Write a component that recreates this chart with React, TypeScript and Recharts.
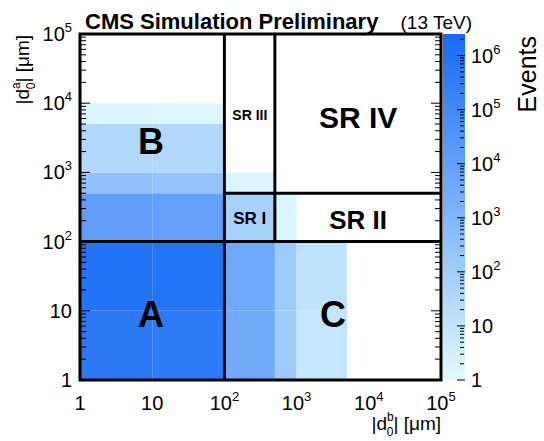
import React from "react";
import {
  ScatterChart,
  Scatter,
  XAxis,
  YAxis,
  ReferenceArea,
  ReferenceLine,
  BarChart,
  Bar,
} from "recharts";

const FONT = "'Liberation Sans', Arial, Helvetica, sans-serif";

// histogram bin edges in |d0| [um], same binning on both axes
const binEdges = [1, 10, 100, 500, 1000, 5000, 10000, 100000];

// events per bin: one row per |d0a| bin (bottom to top), one column per |d0b| bin
const eventCounts = [
  [5.2e5, 4.6e5, 3400, 120, 9, 0, 0],
  [1.0e6, 9.0e5, 3800, 140, 11, 0, 0],
  [1.2e4, 1.0e4, 65, 1.6, 0, 0, 0],
  [300, 280, 1.6, 0, 0, 0, 0],
  [32, 30, 0, 0, 0, 0, 0],
  [1.6, 1.3, 0, 0, 0, 0, 0],
  [0, 0, 0, 0, 0, 0, 0],
];

const decadeTicks = [1, 10, 100, 1000, 10000, 100000];
const zDecadeTicks = [1, 10, 100, 1000, 10000, 100000, 1000000];
const zMax = 2.5e6;

// control / signal region boundaries: [xFrom, yFrom, xTo, yTo]
const regionBoundaries = [
  [100, 1, 100, 100000],
  [1, 100, 100000, 100],
  [500, 100, 500, 100000],
  [100, 500, 100000, 500],
];

const regionNames = ["A", "B", "C", "SR I", "SR II", "SR III", "SR IV"];
const regionLabelX = [9.6, 9.6, 3200, 225, 7100, 225, 7100];
const regionLabelY = [9, 2800, 9, 220, 205, 6750, 6300];

const labelFontSize: Record<string, number> = {
  A: 36,
  B: 36,
  C: 36,
  "SR I": 17,
  "SR II": 26,
  "SR III": 14,
  "SR IV": 30,
};

const minorOf = (decades: number[]) =>
  decades.flatMap((d) => [2, 3, 4, 5, 6, 7, 8, 9].map((m) => m * d));
const xyMinorTicks = minorOf([1, 10, 100, 1000, 10000]);
const zMinorTicks = minorOf([1, 10, 100, 1000, 10000, 100000]).concat([2000000]);

// colour map: light cyan -> blue, linear in log10(events)
const LOW = [225, 250, 255];
const HIGH = [22, 106, 245];
function countColor(v: number) {
  const t = Math.min(1, Math.max(0, Math.log10(v) / Math.log10(zMax)));
  const c = LOW.map((lo, i) => Math.round(lo + (HIGH[i] - lo) * t));
  return `rgb(${c[0]},${c[1]},${c[2]})`;
}

const cells = eventCounts.flatMap((row, iy) =>
  row
    .map((v, ix) => ({
      x1: binEdges[ix],
      x2: binEdges[ix + 1],
      y1: binEdges[iy],
      y2: binEdges[iy + 1],
      v,
    }))
    .filter((c) => c.v > 0)
);

const labelPoints = regionNames.map((name, i) => ({
  name,
  x: regionLabelX[i],
  y: regionLabelY[i],
}));

function PowerLabel(props: any) {
  const { x, y, payload, anchor, dx = 0, dy = 0 } = props;
  const fs = 20;
  const v = payload.value;
  const e = Math.round(Math.log10(v));
  return (
    <text x={x + dx} y={y + dy} textAnchor={anchor} fontFamily={FONT} fontSize={fs} fill="#000">
      {e < 2 ? String(v) : (
        <>
          10
          <tspan dy={-9} fontSize={13}>
            {e}
          </tspan>
        </>
      )}
    </text>
  );
}

function RegionLabel(props: any) {
  const { cx, cy, payload } = props;
  const fs = labelFontSize[payload.name];
  return (
    <text
      x={cx}
      y={cy + fs * 0.36}
      textAnchor="middle"
      fontFamily={FONT}
      fontWeight="bold"
      fontSize={fs}
      fill="#000"
    >
      {payload.name}
    </text>
  );
}

// tick marks only, no label
const noLabel = () => <g />;

const logAxis = {
  type: "number" as const,
  scale: "log" as const,
  domain: [1, 100000],
  allowDataOverflow: true,
  interval: 0 as const,
};
const tickStyle = { stroke: "#000", strokeWidth: 1 };

export default function App() {
  return (
    <div style={{ position: "absolute", left: 0, top: 0, width: 544, height: 441, background: "#fff" }}>
      <ScatterChart width={544} height={441} margin={{ top: 34, right: 103, bottom: 31, left: 30 }}>
        <XAxis
          xAxisId="main"
          dataKey="x"
          {...logAxis}
          ticks={decadeTicks}
          height={30}
          tickSize={0}
          tickMargin={0}
          axisLine={false}
          tickLine={false}
          tick={(p: any) => <PowerLabel {...p} anchor="middle" dy={30} />}
        />
        <YAxis
          yAxisId="main"
          dataKey="y"
          {...logAxis}
          ticks={decadeTicks}
          width={50}
          tickSize={0}
          tickMargin={8}
          axisLine={false}
          tickLine={false}
          tick={(p: any) => <PowerLabel {...p} anchor="end" dy={7} />}
        />

        {cells.map((c, i) => (
          <ReferenceArea
            key={`cell-${i}`}
            xAxisId="main"
            yAxisId="main"
            x1={c.x1}
            x2={c.x2}
            y1={c.y1}
            y2={c.y2}
            fill={countColor(c.v)}
            fillOpacity={1}
            stroke="none"
          />
        ))}

        {/* inward tick marks on all four sides */}
        <XAxis xAxisId="bMaj" orientation="bottom" mirror height={1} {...logAxis} ticks={decadeTicks} tickSize={10} tick={noLabel} axisLine={false} tickLine={tickStyle} />
        <XAxis xAxisId="bMin" orientation="bottom" mirror height={1} {...logAxis} ticks={xyMinorTicks} tickSize={5} tick={noLabel} axisLine={false} tickLine={tickStyle} />
        <XAxis xAxisId="tMaj" orientation="top" mirror height={1} {...logAxis} ticks={decadeTicks} tickSize={10} tick={noLabel} axisLine={false} tickLine={tickStyle} />
        <XAxis xAxisId="tMin" orientation="top" mirror height={1} {...logAxis} ticks={xyMinorTicks} tickSize={5} tick={noLabel} axisLine={false} tickLine={tickStyle} />
        <YAxis yAxisId="lMaj" orientation="left" mirror width={1} {...logAxis} ticks={decadeTicks} tickSize={10} tick={noLabel} axisLine={false} tickLine={tickStyle} />
        <YAxis yAxisId="lMin" orientation="left" mirror width={1} {...logAxis} ticks={xyMinorTicks} tickSize={5} tick={noLabel} axisLine={false} tickLine={tickStyle} />
        <YAxis yAxisId="rMaj" orientation="right" mirror width={1} {...logAxis} ticks={decadeTicks} tickSize={10} tick={noLabel} axisLine={false} tickLine={tickStyle} />
        <YAxis yAxisId="rMin" orientation="right" mirror width={1} {...logAxis} ticks={xyMinorTicks} tickSize={5} tick={noLabel} axisLine={false} tickLine={tickStyle} />

        {regionBoundaries.map((b, i) => (
          <ReferenceLine
            key={`edge-${i}`}
            xAxisId="main"
            yAxisId="main"
            segment={[
              { x: b[0], y: b[1] },
              { x: b[2], y: b[3] },
            ]}
            stroke="#000"
            strokeWidth={3}
          />
        ))}

        {/* frame */}
        <ReferenceArea
          xAxisId="main"
          yAxisId="main"
          x1={1}
          x2={100000}
          y1={1}
          y2={100000}
          fill="none"
          fillOpacity={0}
          stroke="#000"
          strokeWidth={3}
        />

        <Scatter
          xAxisId="main"
          yAxisId="main"
          data={labelPoints}
          shape={(p: any) => <RegionLabel {...p} />}
          isAnimationActive={false}
        />
      </ScatterChart>

      {/* colour scale */}
      <div style={{ position: "absolute", left: 443, top: 0 }}>
        <BarChart
          width={101}
          height={441}
          data={[{ name: "events", value: zMax }]}
          margin={{ top: 34, right: 29, bottom: 61, left: 0 }}
          barCategoryGap={0}
          barGap={0}
        >
          <defs>
            <linearGradient id="zGradient" x1="0" y1="0" x2="0" y2="1">
              <stop offset="0%" stopColor={`rgb(${HIGH.join(",")})`} />
              <stop offset="100%" stopColor={`rgb(${LOW.join(",")})`} />
            </linearGradient>
          </defs>
          <XAxis dataKey="name" hide />
          <YAxis
            yAxisId="z"
            orientation="right"
            type="number"
            scale="log"
            domain={[1, zMax]}
            allowDataOverflow
            interval={0}
            ticks={zDecadeTicks}
            width={50}
            tickSize={0}
            tickMargin={6}
            axisLine={false}
            tickLine={false}
            tick={(p: any) => <PowerLabel {...p} anchor="start" dy={7} />}
          />
          <Bar yAxisId="z" dataKey="value" fill="url(#zGradient)" isAnimationActive={false} />
          <YAxis yAxisId="zMaj" orientation="right" mirror width={1} type="number" scale="log" domain={[1, zMax]} allowDataOverflow interval={0} ticks={zDecadeTicks} tickSize={8} tick={noLabel} axisLine={false} tickLine={tickStyle} />
          <YAxis yAxisId="zMin" orientation="right" mirror width={1} type="number" scale="log" domain={[1, zMax]} allowDataOverflow interval={0} ticks={zMinorTicks} tickSize={4} tick={noLabel} axisLine={false} tickLine={tickStyle} />
        </BarChart>
      </div>

      {/* titles */}
      <svg
        width={544}
        height={441}
        style={{ position: "absolute", left: 0, top: 0, pointerEvents: "none" }}
        fontFamily={FONT}
      >
        <text x={85} y={29} fontSize={22} fontWeight="bold">
          CMS Simulation Preliminary
        </text>
        <text x={472} y={29} fontSize={19} textAnchor="end">
          (13 TeV)
        </text>
        <text x={441} y={430} fontSize={19} textAnchor="end">
          |d
          <tspan dy={-9} fontSize={12}>b</tspan>
          <tspan dx={-7} dy={15} fontSize={12}>0</tspan>
          <tspan dy={-6}>| [μm]</tspan>
        </text>
        <text transform="translate(29,35) rotate(-90)" fontSize={19} textAnchor="end">
          |d
          <tspan dy={-9} fontSize={12}>a</tspan>
          <tspan dx={-7} dy={15} fontSize={12}>0</tspan>
          <tspan dy={-6}>| [μm]</tspan>
        </text>
        <text transform="translate(536,36) rotate(-90)" fontSize={25} textAnchor="end">
          Events
        </text>
      </svg>
    </div>
  );
}
